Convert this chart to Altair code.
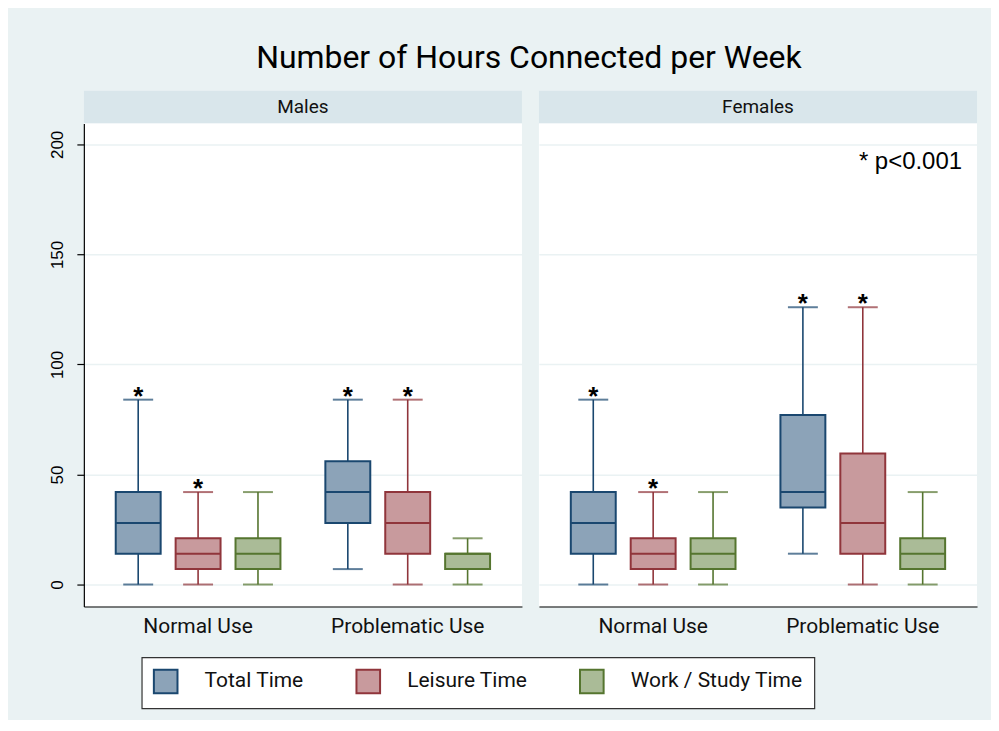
import altair as alt
import pandas as pd

# ---- data ----
panel_names = ["Males", "Females"]
use_order = ["Normal Use", "Problematic Use"]
type_order = ["Total Time", "Leisure Time", "Work / Study Time"]

panels = ["Males"] * 6 + ["Females"] * 6
uses = (["Normal Use"] * 3 + ["Problematic Use"] * 3) * 2
types = type_order * 4
lows = [0, 0, 0, 7, 0, 0, 0, 0, 0, 14, 0, 0]
q1s = [14, 7, 7, 28, 14, 7, 14, 7, 7, 35, 14, 7]
medians = [28, 14, 14, 42, 28, 14, 28, 14, 14, 42, 28, 14]
q3s = [42, 21, 21, 56, 42, 14, 42, 21, 21, 77, 59.5, 21]
highs = [84, 42, 42, 84, 84, 21, 84, 42, 42, 126, 126, 42]
stars = [True, True, False, True, True, False] * 2

note_text = ["* p<0.001"]
note_y = [192]

y_ticks = [0, 50, 100, 150, 200]

fill_colors = ["#8ca3b8", "#c89a9d", "#aabb97"]
stroke_colors = ["#1a476f", "#90353b", "#55752f"]

df = pd.DataFrame({
    "panel": panels, "use": uses, "type": types,
    "low": lows, "q1": q1s, "median": medians, "q3": q3s, "high": highs,
    "star": stars,
})
note_df = pd.DataFrame({"text": note_text, "y": note_y})

W, H, STRIP_H = 439, 484, 33
DIN = "Roboto"
SANS = "Liberation Sans"

y_scale = alt.Scale(domain=[-10, 209.5], nice=False, zero=False)


def y_axis(show):
    if show:
        return alt.Axis(values=y_ticks, title=None, grid=True, gridColor="#eaf2f3",
                        gridWidth=1.5, domain=True, domainColor="black", domainWidth=1.2,
                        ticks=True, tickColor="black", tickSize=7, tickWidth=1.2,
                        labelAngle=270, labelFont=SANS, labelFontSize=17,
                        labelColor="black", labelPadding=10)
    return alt.Axis(values=y_ticks, title=None, grid=True, gridColor="#eaf2f3",
                    gridWidth=1.5, domain=False, ticks=False, labels=False)


x_enc = alt.X("use:N", sort=use_order,
              scale=alt.Scale(domain=use_order, paddingInner=0, paddingOuter=0.045),
              axis=alt.Axis(title=None, ticks=False, domain=True, domainColor="black",
                            domainWidth=1.2, labelFont=DIN, labelFontSize=21,
                            labelColor="#111", labelAngle=0, labelPadding=9, grid=False))
xo_enc = alt.XOffset("type:N", sort=type_order,
                     scale=alt.Scale(domain=type_order, paddingInner=0.25, paddingOuter=0.375))

NBSP = "\u00a0" * 15
label_pad_expr = ("datum.label == 'Work / Study Time' ? "
                  "datum.label + '" + NBSP + "' : datum.label")
legend_def = alt.Legend(title=None, labelExpr=label_pad_expr)

fill_enc = alt.Fill("type:N", sort=type_order,
                    scale=alt.Scale(domain=type_order, range=fill_colors),
                    legend=legend_def)
stroke_enc = alt.Stroke("type:N", sort=type_order,
                        scale=alt.Scale(domain=type_order, range=stroke_colors),
                        legend=legend_def)
color_enc = alt.Color("type:N", sort=type_order,
                      scale=alt.Scale(domain=type_order, range=stroke_colors),
                      legend=None)


def panel(name, show_axis):
    base = alt.Chart(df).transform_filter(alt.datum.panel == name)
    ya = y_axis(show_axis)

    def Y(f):
        return alt.Y(f"{f}:Q", scale=y_scale, axis=ya)

    boxes = base.mark_bar(strokeWidth=2).encode(
        x=x_enc, xOffset=xo_enc, y=Y("q1"), y2="q3", fill=fill_enc, stroke=stroke_enc)
    wlo = base.mark_rule(strokeWidth=1.6).encode(
        x=x_enc, xOffset=xo_enc, y=Y("low"), y2="q1", stroke=stroke_enc)
    whi = base.mark_rule(strokeWidth=1.6).encode(
        x=x_enc, xOffset=xo_enc, y=Y("q3"), y2="high", stroke=stroke_enc)
    cap_lo = base.mark_tick(thickness=2, size=30).encode(
        x=x_enc, xOffset=xo_enc, y=Y("low"), color=color_enc)
    cap_hi = base.mark_tick(thickness=2, size=30).encode(
        x=x_enc, xOffset=xo_enc, y=Y("high"), color=color_enc)
    med = base.mark_bar(strokeWidth=2, fillOpacity=0).encode(
        x=x_enc, xOffset=xo_enc, y=Y("median"), y2="median", stroke=stroke_enc)
    star = base.transform_filter(alt.datum.star).mark_text(
        text="*", font=SANS, fontSize=26, fontWeight="bold", color="black",
        baseline="alphabetic", dy=5).encode(x=x_enc, xOffset=xo_enc, y=Y("high"))
    layers = [wlo, whi, boxes, med, cap_lo, cap_hi, star]
    if name == "Females":
        note = alt.Chart(note_df).mark_text(
            font=SANS, fontSize=24, color="black", align="right", baseline="middle").encode(
            text="text:N", x=alt.value(424), y=alt.Y("y:Q", scale=y_scale, axis=ya))
        layers.append(note)
    return alt.layer(*layers).properties(width=W, height=H)


def strip(name):
    sdf = pd.DataFrame({"label": [name]})
    rect = alt.Chart(sdf).mark_rect(color="#d9e6eb").encode(
        x=alt.value(0), x2=alt.value(W), y=alt.value(0), y2=alt.value(STRIP_H))
    txt = alt.Chart(sdf).mark_text(font=DIN, fontSize=19, color="#111",
                                   baseline="middle").encode(
        text="label:N", x=alt.value(W / 2), y=alt.value(STRIP_H / 2))
    return alt.layer(rect, txt).properties(width=W, height=STRIP_H)


cols = [alt.vconcat(strip(n), panel(n, n == "Males"), spacing=0, bounds="flush")
        for n in panel_names]

chart = alt.hconcat(*cols, spacing=17).properties(
    title=alt.TitleParams("Number of Hours Connected per Week", font=DIN, fontSize=32,
                          fontWeight="normal", color="black", anchor="middle", offset=16,
                          dx=16),
    background="#eaf2f3",
    padding={"left": 40, "top": 33, "right": 14, "bottom": 10},
).configure_view(stroke=None, fill="white").configure_legend(
    orient="none", legendX=58, legendY=568, direction="horizontal",
    symbolType="square", symbolSize=560, symbolStrokeWidth=2,
    labelFont=DIN, labelFontSize=21, labelColor="#111", labelOffset=26, labelLimit=400,
    columnPadding=48, padding=11, fillColor="white", strokeColor="#333",
    strokeWidth=1.2, cornerRadius=0,
)

chart.save("out.html", embed_options={"renderer": "svg", "actions": False})
